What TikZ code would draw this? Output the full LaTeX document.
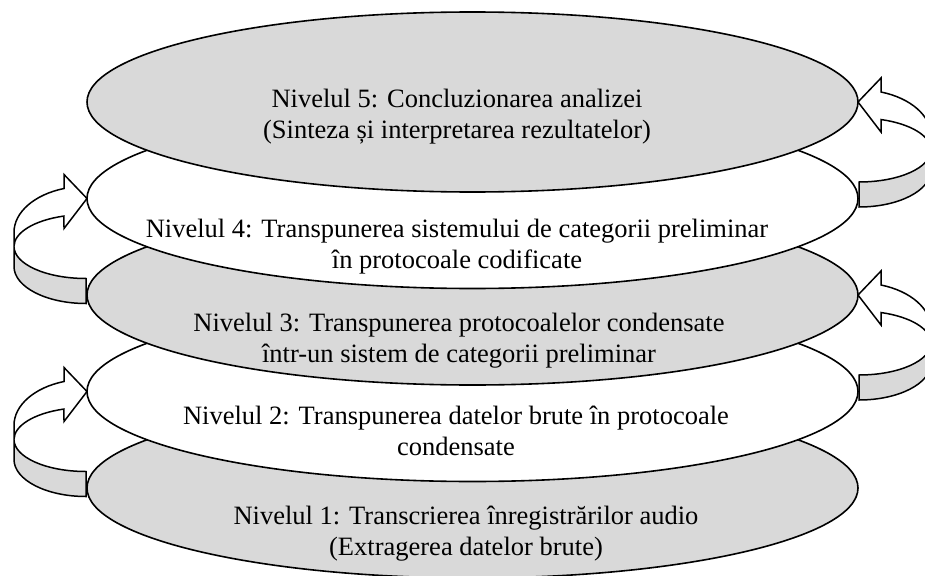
\documentclass[tikz,border=0pt]{standalone}
\usepackage{fontspec}
\setmainfont{Liberation Serif}
\usetikzlibrary{shapes.geometric}
\definecolor{lvlgray}{RGB}{217,217,217}
\begin{document}
\begin{tikzpicture}[x=1pt,y=-1pt,
  level/.style={ellipse, draw=black, line width=1.6pt, minimum width=771pt, minimum height=180pt, inner sep=0pt, outer sep=0pt},
  graylvl/.style={level, fill=lvlgray},
  whitelvl/.style={level, fill=white},
  lbl/.style={align=center, font=\fontsize{26.5}{31}\selectfont, inner sep=0pt, anchor=base},
  curvarrow/.pic={
    \path[draw=black, line width=1.5pt, fill=white, line join=miter]
      (-23,-10) arc[start angle=-107.8, end angle=-180, x radius=72, y radius=46]
      -- (-73,48) arc[start angle=-180, end angle=-107.8, x radius=72, y radius=32]
      -- (-23,30) -- (0,0) -- (-23,-24) -- cycle;
    \path[draw=black, line width=1.5pt, fill=lvlgray, line join=miter]
      (-73,48) arc[start angle=-180, end angle=-270, x radius=72, y radius=32]
      -- (-1,105) arc[start angle=-270, end angle=-180, x radius=72, y radius=37]
      -- cycle;
  }
]
\useasboundingbox (0,0) rectangle (925,575);
\node[graylvl]  (e1) at (472.5,488) {};
\node[lbl] (t1) at (466,555) {Nivelul 1: Transcrierea înregistrărilor audio\\(Extragerea datelor brute)};
\node[whitelvl] (e2) at (472.5,391.5) {};
\node[lbl] (t2) at (456,455) {Nivelul 2: Transpunerea datelor brute în protocoale\\condensate};
\node[graylvl]  (e3) at (472.5,295) {};
\node[lbl] (t3) at (459,362) {Nivelul 3: Transpunerea protocoalelor condensate\\într-un sistem de categorii preliminar};
\node[whitelvl] (e4) at (472.5,198.5) {};
\node[lbl] (t4) at (457,268) {Nivelul 4: Transpunerea sistemului de categorii preliminar\\în protocoale codificate};
\node[graylvl]  (e5) at (472.5,102) {};
\node[lbl] (t5) at (457,139) {Nivelul 5: Concluzionarea analizei\\(Sinteza și interpretarea rezultatelor)};
\pic at (e4.west) {curvarrow};
\pic at (e2.west) {curvarrow};
\pic[xscale=-1] at (e5.east) {curvarrow};
\pic[xscale=-1] at (e3.east) {curvarrow};
\end{tikzpicture}
\end{document}
